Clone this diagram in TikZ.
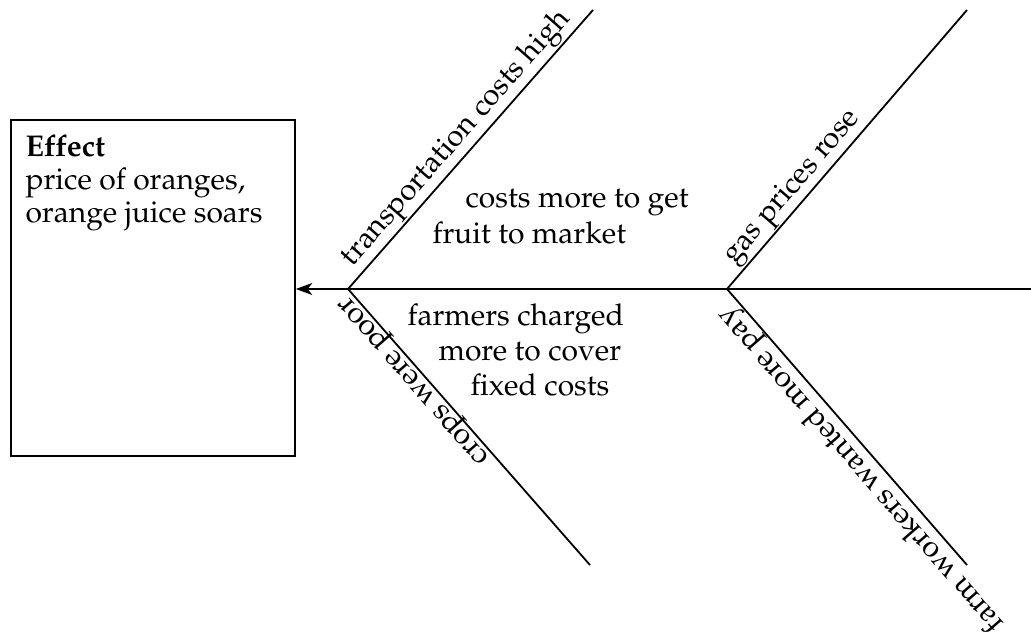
\documentclass[tikz,border=0pt]{standalone}
\usepackage[T1]{fontenc}
\usepackage{mathpazo}
\usetikzlibrary{arrows.meta}
\tikzset{
  bone/.style={line width=0.6pt},
  bonelabel/.style={sloped, anchor=base west, inner sep=0pt, font=\fontsize{10}{12}\selectfont},
  midtext/.style={anchor=base west, inner sep=0pt, font=\fontsize{10}{12}\selectfont},
}
\begin{document}
\begin{tikzpicture}[x=0.3333pt,y=-0.3333pt]
\useasboundingbox (0,0) rectangle (1031,642);
% effect box
\node[draw, line width=0.6pt, minimum width=94.67pt, minimum height=112pt, inner sep=0pt, anchor=north west] (effect) at (10,119) {};
\node[anchor=base west, inner sep=0pt, align=left, font=\fontsize{10}{10.9}\selectfont] (efftext) at (25,222)
  {\textbf{Effect}\\price of oranges,\\orange juice soars};
% skeleton coordinates
\coordinate (tail) at (1031,289);
\coordinate (J1) at (348,289);
\coordinate (J2) at (727,289);
\coordinate (U1) at (593,10);
\coordinate (L1) at (590,565);
\coordinate (U2) at (967,10);
\coordinate (L2) at (967,565);
% spine
\draw[bone, -{Stealth[length=5.5pt,width=4pt,inset=1.6pt]}] (tail) -- (J2) -- (J1) -- (effect.east |- J1);
% bones
\draw[bone] (J1) -- (U1) node[bonelabel, pos=0.05] (t1) {\raisebox{3.6pt}{transportation costs high}};
\draw[bone] (J2) -- (U2) node[bonelabel, pos=0.06] (t2) {\raisebox{3.4pt}{gas prices rose}};
\draw[bone] (L1) -- (J1) node[bonelabel, allow upside down, pos=0.40] (t3) {\raisebox{1.6pt}{crops were poor}};
\draw[bone] (L2) -- (J2) node[bonelabel, allow upside down, pos=-0.19] (t4) {\raisebox{3.4pt}{farm workers wanted more pay}};
% middle texts
\node[midtext] (m1a) at (465,207) {costs more to get};
\node[midtext] (m1b) at (432,243) {fruit to market};
\node[midtext] (m2a) at (407,325) {farmers charged};
\node[midtext] (m2b) at (438,360) {more to cover};
\node[midtext] (m2c) at (470,395) {fixed costs};
\end{tikzpicture}
\end{document}
